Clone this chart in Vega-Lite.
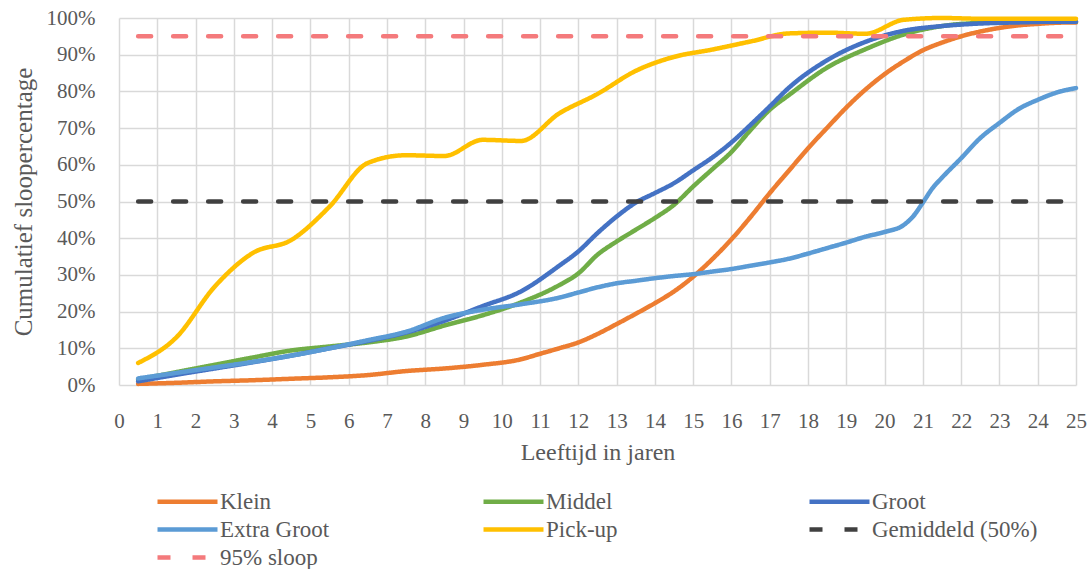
{
  "$schema": "https://vega.github.io/schema/vega-lite/v6.json",
  "width": 957,
  "height": 367,
  "autosize": {"type": "none"},
  "padding": {"left": 119, "top": 18, "right": 14, "bottom": 184},
  "background": "white",
  "datasets": {
    "d": [
      {"s":"Klein","x":0.5,"y":0.003},{"s":"Klein","x":1.5,"y":0.006},{"s":"Klein","x":2.5,"y":0.01},{"s":"Klein","x":3.5,"y":0.013},{"s":"Klein","x":4.5,"y":0.017},{"s":"Klein","x":5.5,"y":0.021},{"s":"Klein","x":6.5,"y":0.027},{"s":"Klein","x":7.5,"y":0.038},{"s":"Klein","x":8.5,"y":0.045},{"s":"Klein","x":9.5,"y":0.055},{"s":"Klein","x":10.5,"y":0.07},{"s":"Klein","x":11,"y":0.085},{"s":"Klein","x":11.5,"y":0.1},{"s":"Klein","x":12,"y":0.116},{"s":"Klein","x":12.5,"y":0.139},{"s":"Klein","x":13,"y":0.166},{"s":"Klein","x":13.5,"y":0.194},{"s":"Klein","x":14,"y":0.223},{"s":"Klein","x":14.5,"y":0.255},{"s":"Klein","x":15,"y":0.295},{"s":"Klein","x":15.5,"y":0.343},{"s":"Klein","x":16,"y":0.397},{"s":"Klein","x":16.5,"y":0.458},{"s":"Klein","x":17,"y":0.523},{"s":"Klein","x":17.5,"y":0.584},{"s":"Klein","x":18,"y":0.645},{"s":"Klein","x":18.5,"y":0.701},{"s":"Klein","x":19,"y":0.756},{"s":"Klein","x":19.5,"y":0.805},{"s":"Klein","x":20,"y":0.847},{"s":"Klein","x":20.5,"y":0.882},{"s":"Klein","x":21,"y":0.912},{"s":"Klein","x":21.5,"y":0.933},{"s":"Klein","x":22,"y":0.95},{"s":"Klein","x":22.5,"y":0.963},{"s":"Klein","x":23,"y":0.973},{"s":"Klein","x":23.5,"y":0.98},{"s":"Klein","x":24,"y":0.984},{"s":"Klein","x":24.5,"y":0.987},{"s":"Klein","x":25,"y":0.988},
      {"s":"Middel","x":0.5,"y":0.015},{"s":"Middel","x":1.5,"y":0.035},{"s":"Middel","x":2.5,"y":0.055},{"s":"Middel","x":3.5,"y":0.075},{"s":"Middel","x":4.5,"y":0.094},{"s":"Middel","x":5.5,"y":0.105},{"s":"Middel","x":6.5,"y":0.116},{"s":"Middel","x":7.5,"y":0.132},{"s":"Middel","x":8.5,"y":0.162},{"s":"Middel","x":9.5,"y":0.19},{"s":"Middel","x":10.5,"y":0.225},{"s":"Middel","x":11.5,"y":0.272},{"s":"Middel","x":12,"y":0.304},{"s":"Middel","x":12.5,"y":0.355},{"s":"Middel","x":13,"y":0.391},{"s":"Middel","x":13.5,"y":0.423},{"s":"Middel","x":14,"y":0.455},{"s":"Middel","x":14.5,"y":0.491},{"s":"Middel","x":15,"y":0.541},{"s":"Middel","x":15.5,"y":0.588},{"s":"Middel","x":16,"y":0.635},{"s":"Middel","x":16.5,"y":0.695},{"s":"Middel","x":17,"y":0.75},{"s":"Middel","x":17.5,"y":0.79},{"s":"Middel","x":18.5,"y":0.865},{"s":"Middel","x":19.5,"y":0.915},{"s":"Middel","x":20.5,"y":0.955},{"s":"Middel","x":21.5,"y":0.978},{"s":"Middel","x":22.5,"y":0.987},{"s":"Middel","x":23.5,"y":0.99},{"s":"Middel","x":24.5,"y":0.99},{"s":"Middel","x":25,"y":0.99},
      {"s":"Groot","x":0.5,"y":0.01},{"s":"Groot","x":1.5,"y":0.028},{"s":"Groot","x":2.5,"y":0.045},{"s":"Groot","x":3.5,"y":0.062},{"s":"Groot","x":4.5,"y":0.08},{"s":"Groot","x":5.5,"y":0.1},{"s":"Groot","x":6.5,"y":0.12},{"s":"Groot","x":7.5,"y":0.143},{"s":"Groot","x":8.5,"y":0.175},{"s":"Groot","x":9.5,"y":0.215},{"s":"Groot","x":10.5,"y":0.255},{"s":"Groot","x":11.5,"y":0.325},{"s":"Groot","x":12,"y":0.364},{"s":"Groot","x":12.5,"y":0.414},{"s":"Groot","x":13,"y":0.459},{"s":"Groot","x":13.5,"y":0.497},{"s":"Groot","x":14,"y":0.523},{"s":"Groot","x":14.5,"y":0.55},{"s":"Groot","x":15,"y":0.585},{"s":"Groot","x":15.5,"y":0.62},{"s":"Groot","x":16,"y":0.661},{"s":"Groot","x":16.5,"y":0.709},{"s":"Groot","x":17,"y":0.759},{"s":"Groot","x":17.5,"y":0.81},{"s":"Groot","x":18.5,"y":0.885},{"s":"Groot","x":19.5,"y":0.935},{"s":"Groot","x":20.5,"y":0.965},{"s":"Groot","x":21.5,"y":0.978},{"s":"Groot","x":22.5,"y":0.985},{"s":"Groot","x":23.5,"y":0.988},{"s":"Groot","x":24.5,"y":0.99},{"s":"Groot","x":25,"y":0.99},
      {"s":"Extra Groot","x":0.5,"y":0.018},{"s":"Extra Groot","x":1.5,"y":0.033},{"s":"Extra Groot","x":2.5,"y":0.048},{"s":"Extra Groot","x":3.5,"y":0.063},{"s":"Extra Groot","x":4.5,"y":0.08},{"s":"Extra Groot","x":5.5,"y":0.1},{"s":"Extra Groot","x":6.5,"y":0.122},{"s":"Extra Groot","x":7.5,"y":0.145},{"s":"Extra Groot","x":8.5,"y":0.183},{"s":"Extra Groot","x":9.5,"y":0.205},{"s":"Extra Groot","x":10.5,"y":0.22},{"s":"Extra Groot","x":11.5,"y":0.238},{"s":"Extra Groot","x":12,"y":0.252},{"s":"Extra Groot","x":12.5,"y":0.266},{"s":"Extra Groot","x":13,"y":0.277},{"s":"Extra Groot","x":13.5,"y":0.284},{"s":"Extra Groot","x":14,"y":0.291},{"s":"Extra Groot","x":14.5,"y":0.297},{"s":"Extra Groot","x":15,"y":0.302},{"s":"Extra Groot","x":15.5,"y":0.309},{"s":"Extra Groot","x":16,"y":0.316},{"s":"Extra Groot","x":16.5,"y":0.325},{"s":"Extra Groot","x":17,"y":0.334},{"s":"Extra Groot","x":17.5,"y":0.344},{"s":"Extra Groot","x":18,"y":0.358},{"s":"Extra Groot","x":18.5,"y":0.373},{"s":"Extra Groot","x":19,"y":0.388},{"s":"Extra Groot","x":19.5,"y":0.404},{"s":"Extra Groot","x":20,"y":0.417},{"s":"Extra Groot","x":20.5,"y":0.436},{"s":"Extra Groot","x":20.75,"y":0.46},{"s":"Extra Groot","x":21,"y":0.497},{"s":"Extra Groot","x":21.25,"y":0.536},{"s":"Extra Groot","x":21.5,"y":0.565},{"s":"Extra Groot","x":22,"y":0.618},{"s":"Extra Groot","x":22.5,"y":0.673},{"s":"Extra Groot","x":23,"y":0.714},{"s":"Extra Groot","x":23.5,"y":0.752},{"s":"Extra Groot","x":24,"y":0.777},{"s":"Extra Groot","x":24.5,"y":0.797},{"s":"Extra Groot","x":25,"y":0.809},
      {"s":"Pick-up","x":0.5,"y":0.06},{"s":"Pick-up","x":1.5,"y":0.13},{"s":"Pick-up","x":2.5,"y":0.268},{"s":"Pick-up","x":3.5,"y":0.36},{"s":"Pick-up","x":4.5,"y":0.395},{"s":"Pick-up","x":5.5,"y":0.486},{"s":"Pick-up","x":6.5,"y":0.605},{"s":"Pick-up","x":7.5,"y":0.626},{"s":"Pick-up","x":8.5,"y":0.624},{"s":"Pick-up","x":9.5,"y":0.668},{"s":"Pick-up","x":10.5,"y":0.665},{"s":"Pick-up","x":11.5,"y":0.74},{"s":"Pick-up","x":12.5,"y":0.793},{"s":"Pick-up","x":13.5,"y":0.856},{"s":"Pick-up","x":14.5,"y":0.894},{"s":"Pick-up","x":15.5,"y":0.914},{"s":"Pick-up","x":16.5,"y":0.936},{"s":"Pick-up","x":17.5,"y":0.958},{"s":"Pick-up","x":18.5,"y":0.96},{"s":"Pick-up","x":19.5,"y":0.957},{"s":"Pick-up","x":20.5,"y":0.995},{"s":"Pick-up","x":21.5,"y":1.0},{"s":"Pick-up","x":22.5,"y":0.998},{"s":"Pick-up","x":23.5,"y":0.998},{"s":"Pick-up","x":24.5,"y":0.998},{"s":"Pick-up","x":25,"y":0.998},
      {"s":"Gemiddeld (50%)","x":0.5,"y":0.5},{"s":"Gemiddeld (50%)","x":25,"y":0.5},
      {"s":"95% sloop","x":0.5,"y":0.95},{"s":"95% sloop","x":25,"y":0.95}
    ]
  },
  "data": {"name": "d"},
  "mark": {"type": "line", "interpolate": "monotone", "strokeWidth": 4.5, "strokeCap": "round"},
  "encoding": {
    "x": {
      "field": "x", "type": "quantitative",
      "scale": {"domain": [0, 25], "nice": false, "zero": false},
      "axis": {"values": [0,1,2,3,4,5,6,7,8,9,10,11,12,13,14,15,16,17,18,19,20,21,22,23,24,25], "title": "Leeftijd in jaren", "labelPadding": 25, "titlePadding": 9, "labelFlush": false}
    },
    "y": {
      "field": "y", "type": "quantitative",
      "scale": {"domain": [0, 1], "nice": false},
      "axis": {"values": [0,0.1,0.2,0.3,0.4,0.5,0.6,0.7,0.8,0.9,1], "format": ".0%", "title": "Cumulatief sloopercentage", "labelPadding": 24, "titlePadding": 10, "titleFontSize": 25}
    },
    "color": {
      "field": "s", "type": "nominal",
      "scale": {
        "domain": ["Klein","Middel","Groot","Extra Groot","Pick-up","Gemiddeld (50%)","95% sloop"],
        "range": ["#ED7D31","#70AD47","#4472C4","#5B9BD5","#FFC000","#404040","#F47A7C"]
      },
      "legend": {"title": null}
    },
    "strokeDash": {
      "field": "s", "type": "nominal",
      "scale": {
        "domain": ["Klein","Middel","Groot","Extra Groot","Pick-up","Gemiddeld (50%)","95% sloop"],
        "range": [[1,0],[1,0],[1,0],[1,0],[1,0],[13,22],[13,22]]
      },
      "legend": {"title": null}
    }
  },
  "config": {
    "view": {"stroke": null},
    "font": "Liberation Serif",
    "axis": {
      "domain": false,
      "ticks": false,
      "grid": true,
      "gridColor": "#D9D9D9",
      "gridWidth": 1.5,
      "labelFont": "Liberation Serif",
      "labelFontSize": 21,
      "labelColor": "#595959",
      "titleFont": "Liberation Serif",
      "titleFontSize": 24,
      "titleFontWeight": "normal",
      "titleColor": "#595959"
    },
    "legend": {
      "orient": "none",
      "legendX": 33,
      "legendY": 472,
      "direction": "horizontal",
      "columns": 3,
      "gridAlign": "all",
      "columnPadding": 88,
      "rowPadding": 4,
      "symbolType": "M-1,0H9",
      "symbolSize": 144,
      "symbolStrokeWidth": 4.5,
      "labelOffset": 45,
      "labelFont": "Liberation Serif",
      "labelFontSize": 23,
      "labelColor": "#595959",
      "labelLimit": 300
    }
  }
}
